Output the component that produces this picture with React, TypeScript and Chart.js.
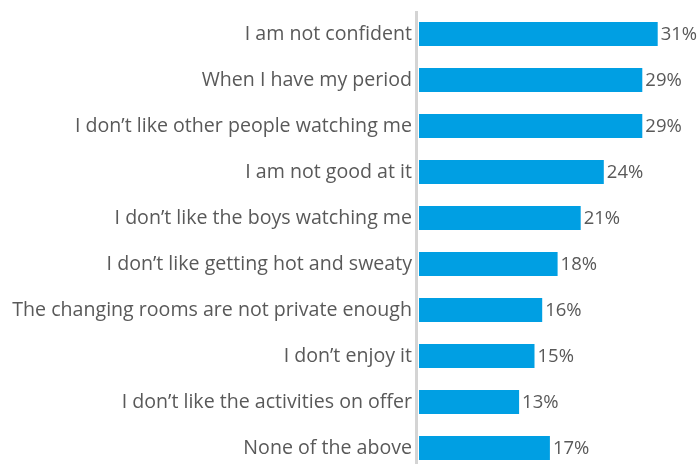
import React, { useEffect, useRef } from "react";
import { Chart, registerables } from "chart.js";

Chart.register(...registerables);

const categories = [
  "I am not confident",
  "When I have my period",
  "I don\u2019t like other people watching me",
  "I am not good at it",
  "I don\u2019t like the boys watching me",
  "I don\u2019t like getting hot and sweaty",
  "The changing rooms are not private enough",
  "I don\u2019t enjoy it",
  "I don\u2019t like the activities on offer",
  "None of the above",
];
const values = [31, 29, 29, 24, 21, 18, 16, 15, 13, 17];

const FONT = "'Open Sans'";
const TEXT = "#595959";
const BAR = "#009FE3";

const axisLinePlugin = {
  id: "axisLine",
  afterDatasetsDraw(chart: any) {
    const { ctx, chartArea } = chart;
    ctx.save();
    ctx.fillStyle = "#d4d4d4";
    ctx.fillRect(chartArea.left - 4, chartArea.top, 3, chartArea.bottom - chartArea.top);
    ctx.restore();
  },
};

const labelPlugin = {
  id: "valueLabels",
  afterDatasetsDraw(chart: any) {
    const { ctx } = chart;
    const meta = chart.getDatasetMeta(0);
    ctx.save();
    ctx.font = `18.5px ${FONT}`;
    ctx.fillStyle = TEXT;
    ctx.textAlign = "left";
    ctx.textBaseline = "middle";
    meta.data.forEach((bar: any, i: number) => {
      ctx.fillText(`${values[i]}%`, bar.x + 3, bar.y + 1);
    });
    ctx.restore();
  },
};

export default function App() {
  const ref = useRef<HTMLCanvasElement>(null);
  useEffect(() => {
    document.body.style.margin = "0";
    const chart = new Chart(ref.current!, {
      type: "bar",
      data: {
        labels: categories,
        datasets: [
          {
            data: values,
            backgroundColor: BAR,
            borderWidth: 0,
            categoryPercentage: 1,
            barPercentage: 0.52,
          },
        ],
      },
      options: {
        indexAxis: "y",
        animation: false,
        responsive: false,
        maintainAspectRatio: false,
        layout: { padding: { top: 11, bottom: 0, left: 0, right: 10.5 } },
        plugins: { legend: { display: false }, tooltip: { enabled: false } },
        scales: {
          x: { display: false, min: 0, max: 35 },
          y: {
            grid: { display: false, drawTicks: false },
            border: { display: false },
            ticks: {
              color: TEXT,
              font: { family: FONT, size: 19.6 },
              padding: 7,
            },
            afterFit(scale: any) {
              scale.width = 419;
              scale.paddingTop = 0;
              scale.paddingBottom = 0;
            },
          },
        },
      },
      plugins: [axisLinePlugin, labelPlugin],
    });
    return () => chart.destroy();
  }, []);
  return (
    <div style={{ width: 699, height: 464, overflow: "hidden", position: "relative" }}>
      <canvas ref={ref} width={699} height={471} style={{ position: "absolute", top: 0, left: 0 }} />
    </div>
  );
}
